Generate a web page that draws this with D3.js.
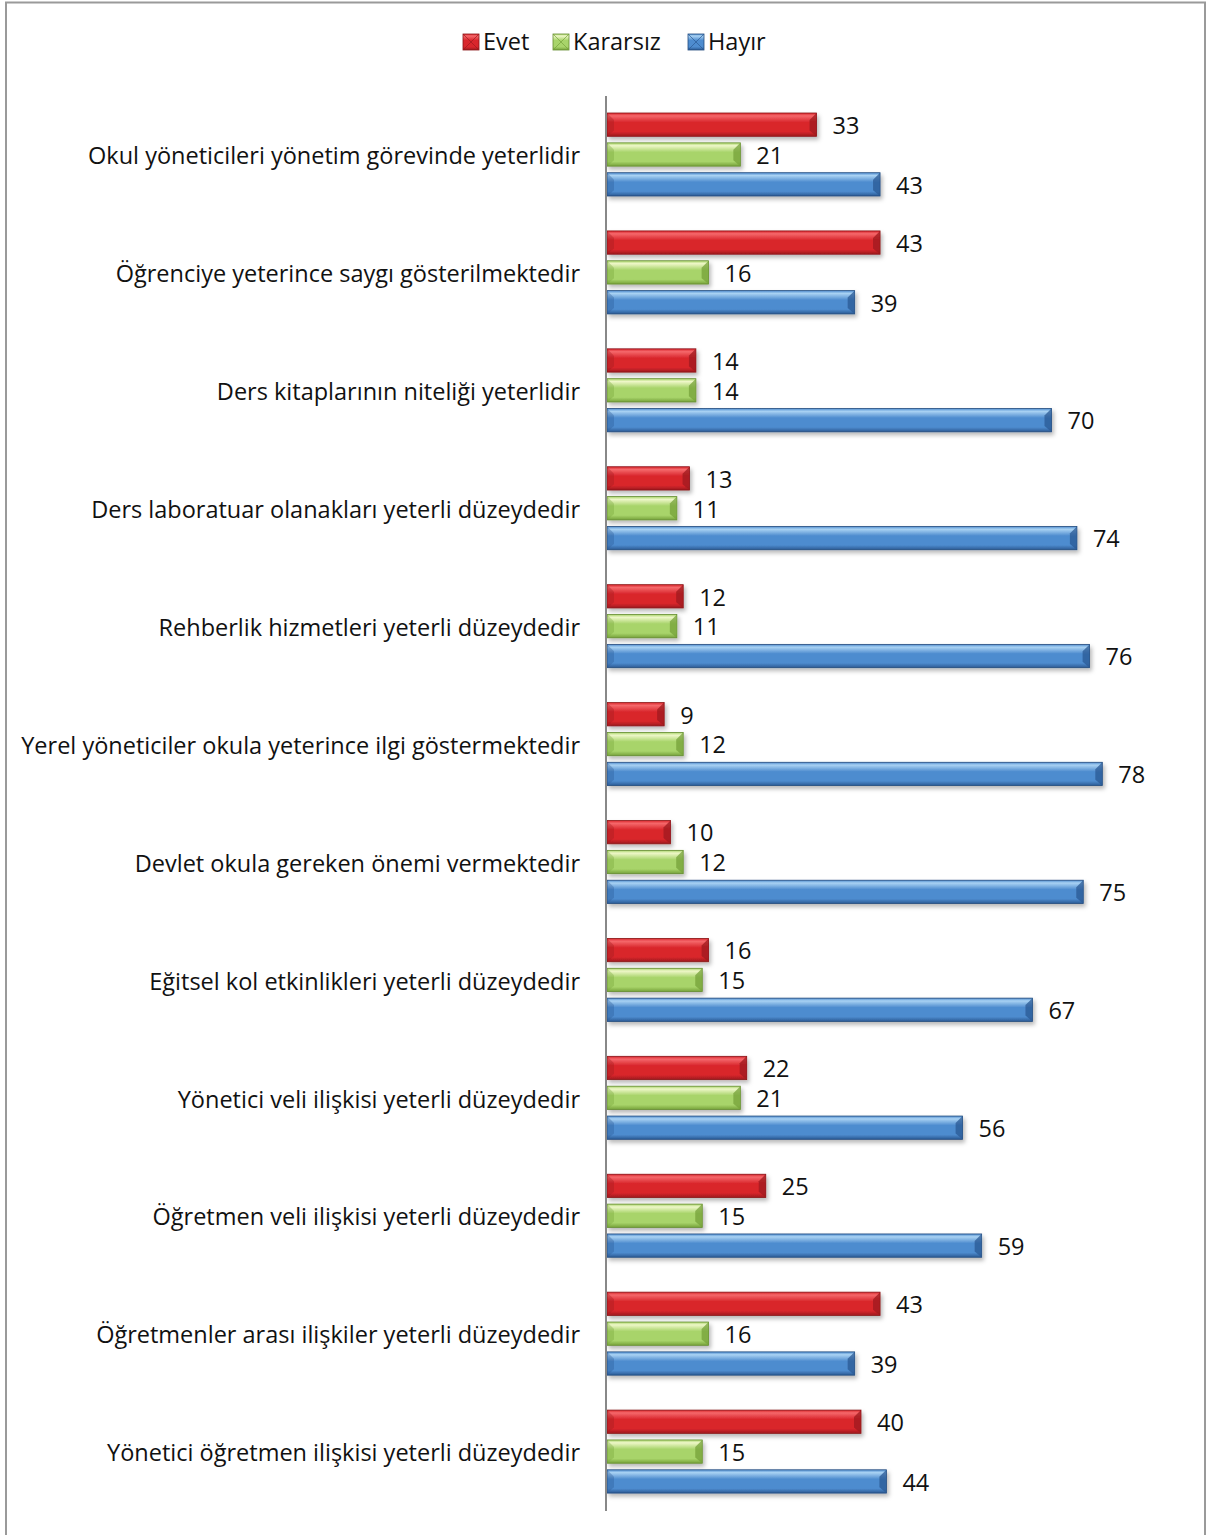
<!DOCTYPE html>
<html><head><meta charset="utf-8">
<script src="https://cdn.jsdelivr.net/npm/d3@7"></script>
<style>body{margin:0;background:#fff}svg{display:block}</style>
</head><body>
<svg id="c" width="1208" height="1535"></svg>
<script>
const categories = [
 "Okul yöneticileri yönetim görevinde yeterlidir",
 "Öğrenciye yeterince saygı gösterilmektedir",
 "Ders kitaplarının niteliği yeterlidir",
 "Ders laboratuar olanakları yeterli düzeydedir",
 "Rehberlik hizmetleri yeterli düzeydedir",
 "Yerel yöneticiler okula yeterince ilgi göstermektedir",
 "Devlet okula gereken önemi vermektedir",
 "Eğitsel kol etkinlikleri yeterli düzeydedir",
 "Yönetici veli ilişkisi yeterli düzeydedir",
 "Öğretmen veli ilişkisi yeterli düzeydedir",
 "Öğretmenler arası ilişkiler yeterli düzeydedir",
 "Yönetici öğretmen ilişkisi yeterli düzeydedir"
];
const seriesNames = ["Evet","Kararsız","Hayır"];
const evet     = [33,43,14,13,12, 9,10,16,22,25,43,40];
const kararsiz = [21,16,14,11,11,12,12,15,21,15,16,15];
const hayir    = [43,39,70,74,76,78,75,67,56,59,39,44];
const seriesValues = [evet, kararsiz, hayir];

const colors = [
 {top:"#f5686b", mid:"#d9262c", bot:"#9e1a1e", edge:"#8a1518"},
 {top:"#eef7c8", mid:"#a8d46a", bot:"#76a23a", edge:"#658c30"},
 {top:"#a9d2f3", mid:"#4e8ccf", bot:"#2b5a94", edge:"#244c7e"}
];

const svg = d3.select("#c");
const defs = svg.append("defs");
colors.forEach((c,i)=>{
  const g = defs.append("linearGradient").attr("id","g"+i).attr("x1",0).attr("y1",0).attr("x2",0).attr("y2",1);
  g.append("stop").attr("offset","0%").attr("stop-color",c.mid);
  g.append("stop").attr("offset","12%").attr("stop-color",c.top);
  g.append("stop").attr("offset","40%").attr("stop-color",c.mid);
  g.append("stop").attr("offset","80%").attr("stop-color",c.mid);
  g.append("stop").attr("offset","100%").attr("stop-color",c.bot);
});
const f = defs.append("filter").attr("id","sh").attr("x","-5%").attr("y","-20%").attr("width","115%").attr("height","160%");
f.append("feDropShadow").attr("dx",2).attr("dy",3).attr("stdDeviation",2).attr("flood-color","#000").attr("flood-opacity",0.28);

// border
svg.append("rect").attr("x",6).attr("y",2.5).attr("width",1199).attr("height",1545)
  .attr("fill","none").attr("stroke","#9a9a9a").attr("stroke-width",2);

const font = "'Open Sans', sans-serif";
const probe = svg.append("text").attr("font-family",font).attr("font-size",22).text(categories[5]);
const w22 = probe.node().getComputedTextLength();
probe.remove();
const fs = Math.round(22*558/w22*10)/10;

const x = d3.scaleLinear().domain([0,86]).range([607, 607+86*6.35]);
const y = d3.scaleBand().domain(categories).range([96,1511]);
const yi = d3.scaleBand().domain(seriesNames).range([17,100]).paddingInner(0.22);

// category labels
svg.append("g").selectAll("text").data(categories).join("text")
  .attr("x",580).attr("y",d=>y(d)+y.bandwidth()/2+3)
  .attr("text-anchor","end").attr("dominant-baseline","middle")
  .attr("font-family",font).attr("font-size",fs).attr("fill","#111")
  .text(d=>d);

// bars
const groups = svg.append("g").selectAll("g").data(categories).join("g")
  .attr("transform",d=>`translate(0,${y(d)})`);
seriesNames.forEach((s,si)=>{
  const h = yi.bandwidth();
  const bar = groups.append("g").attr("filter","url(#sh)");
  bar.append("rect")
    .attr("x",x(0)).attr("y",yi(s))
    .attr("width",(d,i)=>x(seriesValues[si][i])-x(0)).attr("height",h)
    .attr("fill",`url(#g${si})`).attr("stroke",colors[si].edge).attr("stroke-width",0.8);
  bar.append("path")
    .attr("d",(d,i)=>{const x1=x(seriesValues[si][i]), y0=yi(s), b=Math.min(7,(x1-x(0))/2);
      return `M${x1},${y0}L${x1-b},${y0+h*0.3}L${x1-b},${y0+h*0.75}L${x1},${y0+h}Z`;})
    .attr("fill",colors[si].bot).attr("opacity",0.75);
  bar.append("path")
    .attr("d",(d,i)=>{const x0=x(0), y0=yi(s), b=Math.min(7,(x(seriesValues[si][i])-x0)/2);
      return `M${x0},${y0}L${x0+b},${y0+h*0.3}L${x0+b},${y0+h*0.75}L${x0},${y0+h}Z`;})
    .attr("fill",colors[si].bot).attr("opacity",0.35);
  groups.append("text")
    .attr("x",(d,i)=>x(seriesValues[si][i])+16).attr("y",yi(s)+h/2+3)
    .attr("dominant-baseline","middle")
    .attr("font-family",font).attr("font-size",fs).attr("fill","#111")
    .text((d,i)=>seriesValues[si][i]);
});

// axis line
svg.append("line").attr("x1",606).attr("x2",606).attr("y1",96).attr("y2",1511)
  .attr("stroke","#888").attr("stroke-width",2);

// legend
const legend = svg.append("g");
const lx = [463,553,688];
seriesNames.forEach((s,i)=>{
  const g = legend.append("g").attr("transform",`translate(${lx[i]},34)`);
  g.append("rect").attr("width",16).attr("height",16).attr("fill",`url(#g${i})`).attr("stroke",colors[i].edge).attr("stroke-width",0.8);
  g.append("path").attr("d","M0,0L8,8L16,0M0,16L8,8L16,16").attr("fill","none").attr("stroke",colors[i].bot).attr("stroke-width",1).attr("opacity",0.7);
  g.append("text").attr("x",20).attr("y",10).attr("dominant-baseline","middle")
    .attr("font-family",font).attr("font-size",fs).attr("fill","#111").text(s);
});
</script>
</body></html>
